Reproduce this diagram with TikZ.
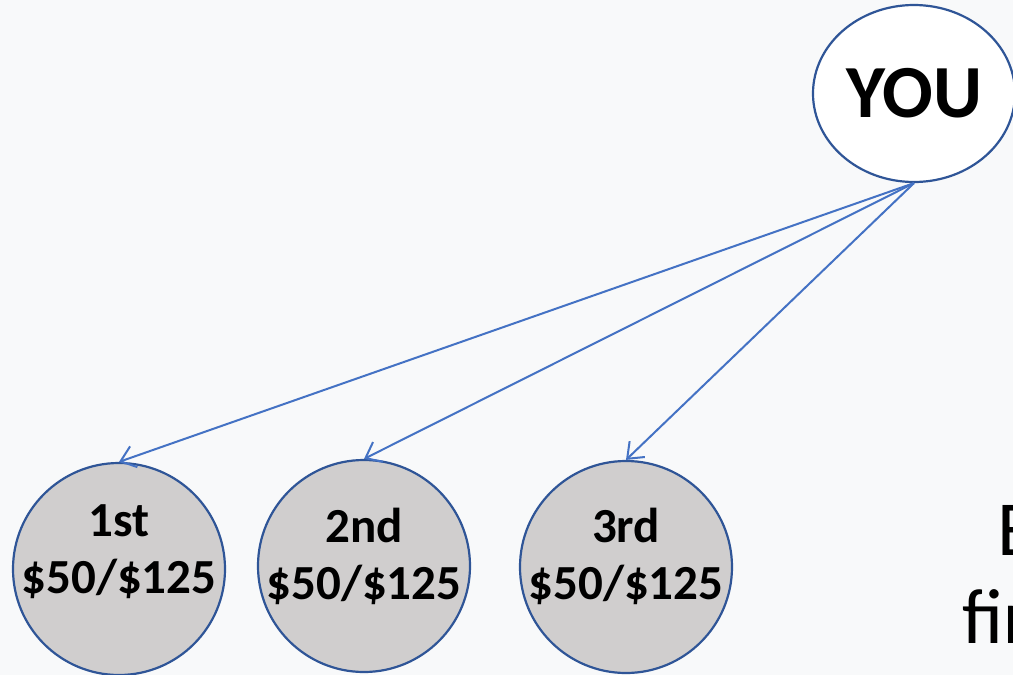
\documentclass[tikz,border=0pt]{standalone}
\usepackage{fontspec}
\setmainfont{Carlito}
\usetikzlibrary{arrows.meta,shapes.geometric}
\definecolor{bg}{HTML}{F8F9FA}
\definecolor{edge}{HTML}{2F5597}
\definecolor{arr}{HTML}{4472C4}
\definecolor{coinfill}{HTML}{D0CECE}
\tikzset{
  coin/.style={circle, draw=edge, line width=2.2pt, fill=coinfill, minimum size=212pt, inner sep=0pt},
  cointext/.style={font=\fontsize{49}{57}\selectfont\bfseries, align=center, inner sep=0pt},
  youbox/.style={ellipse, draw=edge, line width=2.2pt, fill=white, minimum width=202pt, minimum height=177pt, inner sep=0pt, font=\fontsize{75}{80}\selectfont\bfseries},
  link/.style={draw=arr, line width=2pt, -{Straight Barb[length=14pt,width=22pt,line width=2pt]}},
  side/.style={font=\fontsize{78}{94}\selectfont, anchor=base west, inner sep=0pt}
}
\begin{document}
\begin{tikzpicture}[x=1pt,y=-1pt]
\useasboundingbox (0,0) rectangle (1013,675);
\clip (0,0) rectangle (1013,675);
\fill[bg] (0,0) rectangle (1013,675);
\node[youbox] (you) at (914,93.5) {YOU};
\node[coin] (c1) at (119,569) {};
\node[coin] (c2) at (364,566) {};
\node[coin] (c3) at (626,567) {};
\node[cointext] (t1) at (119,552) {1st\\\$50/\$125};
\node[cointext] (t2) at (364,556) {2nd\\\$50/\$125};
\node[cointext] (t3) at (626,556) {3rd\\\$50/\$125};
\draw[link] (you.south) -- (c1.north);
\draw[link] (you.south) -- (c2.north);
\draw[link] (you.south) -- (c3.north);
\node[side] (e1) at (997,555) {E};
\node[side] (e2) at (962,643) {fir};
\end{tikzpicture}
\end{document}
